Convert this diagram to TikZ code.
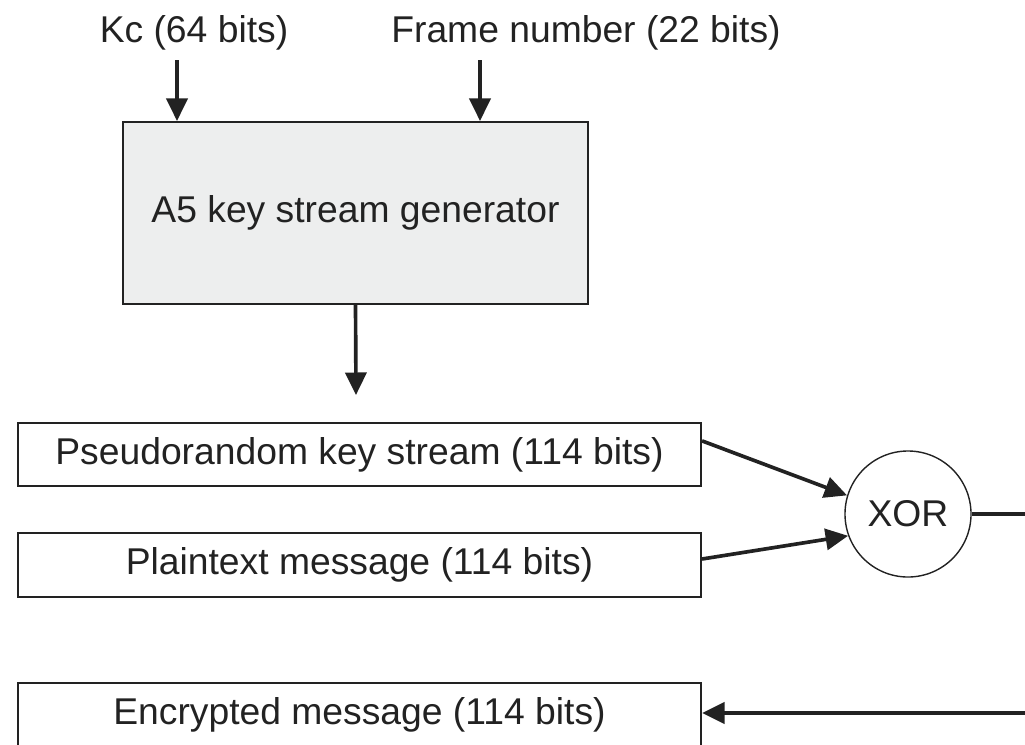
\documentclass[tikz,border=0pt]{standalone}
\usepackage{fontspec}
\setmainfont{Liberation Sans}
\usetikzlibrary{arrows.meta}
\definecolor{genfill}{RGB}{237,238,238}
\definecolor{ink}{RGB}{34,34,34}
\begin{document}
\begin{tikzpicture}[x=0.025cm, y=-0.025cm,
  every node/.style={font=\fontsize{26.5}{30}\selectfont, text=ink},
  box/.style={draw=ink, line width=1.4pt, inner sep=0pt, minimum width=17.075cm, minimum height=1.575cm},
  arr/.style={draw=ink, line width=2.6pt, -{Triangle[length=16pt, width=15pt]}}]
\useasboundingbox (0,0) rectangle (1025,744);
\node[anchor=base] (kc) at (194,42) {Kc (64 bits)};
\node[anchor=base] (frame) at (586,42) {Frame number (22 bits)};
\node[box, fill=genfill, minimum width=11.625cm, minimum height=4.55cm] (gen) at (355.5,213) {A5 key stream generator};
\node[box] (keys) at (359.5,454.5) {Pseudorandom key stream (114 bits)};
\node[box, minimum height=1.6cm] (plain) at (359.5,565) {Plaintext message (114 bits)};
\node[box] (enc) at (359.5,714.5) {Encrypted message (114 bits)};
\node[draw=ink, line width=1pt, circle, minimum size=3.15cm, inner sep=0pt] (xor) at (908,514) {XOR};
\coordinate (kcin) at (177,60);
\coordinate (framein) at (480,60);
\coordinate (genout) at (356,395);
\coordinate (xorout) at (1025,514);
\coordinate (encin) at (1025,713);
\draw[arr] (kcin) -- (kcin |- gen.north);
\draw[arr] (framein) -- (framein |- gen.north);
\draw[arr] (gen.south) -- (genout);
\draw[arr] ([yshift=0.34cm]keys.east) -- (xor.163);
\draw[arr] ([yshift=0.15cm]plain.east) -- (xor.200);
\draw[draw=ink, line width=2.6pt] (xor.east) -- (xorout);
\draw[arr] (encin) -- (encin -| enc.east);
\end{tikzpicture}
\end{document}
